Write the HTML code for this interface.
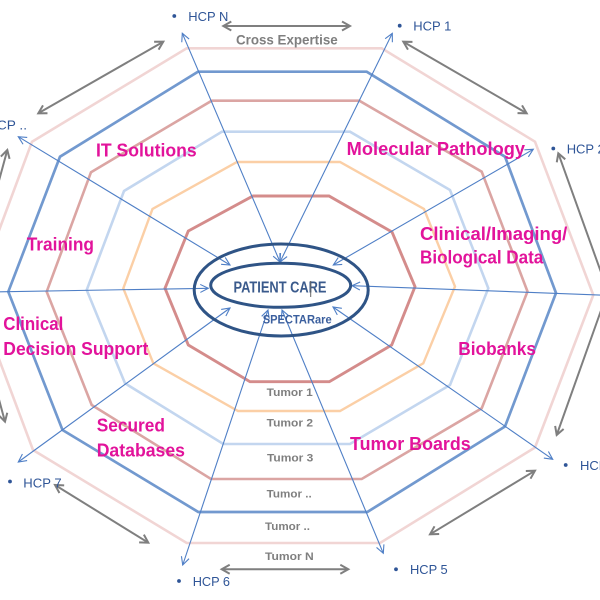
<!DOCTYPE html>
<html><head><meta charset="utf-8"><style>
html,body{margin:0;padding:0;background:#fff;}
svg{display:block;}
text{font-family:"Liberation Sans",sans-serif;}
.pk{fill:#e2139b;font-weight:bold;font-size:18px;}
.hcp{fill:#2f5597;font-size:13px;}
.tm{fill:#7f7f7f;font-weight:bold;font-size:11px;}
</style></head><body>
<svg width="600" height="600" viewBox="0 0 600 600" xmlns="http://www.w3.org/2000/svg">
<defs>
<marker id="ga" markerUnits="userSpaceOnUse" markerWidth="14" markerHeight="14" refX="9" refY="6" orient="auto-start-reverse" style="overflow:visible">
<path d="M1,1.5 L9,6 L1,10.5" fill="none" stroke="#7f7f7f" stroke-width="2"/>
</marker>
<marker id="ba" markerUnits="userSpaceOnUse" markerWidth="12" markerHeight="12" refX="8" refY="4.5" orient="auto-start-reverse" style="overflow:visible">
<path d="M0,0.5 L8,4.5 L0,8.5" fill="none" stroke="#4f7fc6" stroke-width="1.1"/>
</marker>
</defs>
<rect width="600" height="600" fill="#fff"/>

<!-- decagons -->
<g fill="none" stroke-linejoin="miter">
<polygon points="186.7,48.3 381.7,48.3 535,141.7 593.3,295 535,447.5 380,543 186.7,543 33,450 -25,295 32,141.7" stroke="#f1d5d4" stroke-width="2.6"/>
<polygon points="198,71.7 366.7,71.7 505,156.7 556,293 505,426.5 367.3,512 198.3,512 62.5,430 8.3,291.7 60,156.7" stroke="#7299cf" stroke-width="2.7"/>
<polygon points="211.7,100.7 359.3,100.7 481.7,171.7 527.5,291.5 481.7,408.3 361.7,479 211,479 91.7,405 46.7,291.7 91,172.2" stroke="#dba5a3" stroke-width="2.6"/>
<polygon points="222,131.7 350,131.7 450,190 488.3,288.3 450,385 350,444 223.3,444 125,383.3 86.7,290 124,191" stroke="#c3d6ef" stroke-width="2.6"/>
<polygon points="237,162 340,162 424,209 455,286.5 423.3,363.3 340,411 238,411 153.3,363.3 123.3,288.3 152.5,209" stroke="#fbcfa6" stroke-width="2.4"/>
<polygon points="253,196 329,196 392,232 415,286.7 391.7,345 329.3,381.7 250,381.7 188.3,345 165,288.3 188.3,231" stroke="#d48c8b" stroke-width="2.9"/>
</g>

<!-- blue connector lines -->
<g stroke="#4f7fc6" stroke-width="1.1" fill="none" marker-start="url(#ba)" marker-end="url(#ba)">
<line x1="182.3" y1="33.3" x2="280" y2="262"/>
<line x1="392.3" y1="33.3" x2="280" y2="262"/>
<line x1="533.3" y1="149.3" x2="333.3" y2="265"/>
<line x1="18.3" y1="136.7" x2="230" y2="265"/>
<line x1="552.7" y1="459.3" x2="333" y2="307"/>
<line x1="383.3" y1="553.3" x2="282" y2="310"/>
<line x1="182.7" y1="565" x2="268" y2="310"/>
<line x1="18.3" y1="462" x2="230" y2="308"/>
</g>
<line x1="-2" y1="291.8" x2="208.3" y2="288.3" stroke="#4f7fc6" stroke-width="1.1" marker-end="url(#ba)"/>
<line x1="602" y1="295.1" x2="352" y2="285.7" stroke="#4f7fc6" stroke-width="1.1" marker-end="url(#ba)"/>

<!-- gray double arrows -->
<g stroke="#7f7f7f" stroke-width="2" fill="none" marker-start="url(#ga)" marker-end="url(#ga)">
<line x1="223.3" y1="26" x2="350" y2="26"/>
<line x1="403.3" y1="41.7" x2="526.7" y2="113.3"/>
<line x1="558.3" y1="153.3" x2="616" y2="314"/>
<line x1="609" y1="288" x2="556.7" y2="435"/>
<line x1="535" y1="470.7" x2="430" y2="534.3"/>
<line x1="221.7" y1="569.3" x2="348.3" y2="569.3"/>
<line x1="55" y1="485" x2="148.3" y2="542.7"/>
<line x1="-22" y1="322" x2="5" y2="421.7"/>
<line x1="7.3" y1="150" x2="-16" y2="236"/>
<line x1="38.3" y1="113.3" x2="163.3" y2="41.7"/>
</g>

<!-- center ellipses -->
<ellipse cx="281.2" cy="290" rx="87" ry="46" fill="none" stroke="#2f5486" stroke-width="3"/>
<ellipse cx="280.7" cy="285.3" rx="70" ry="22" fill="none" stroke="#2f5486" stroke-width="3"/>
<text x="233.5" y="292.7" textLength="93" lengthAdjust="spacingAndGlyphs" style="font-size:15.5px;font-weight:bold;fill:#3a5a8c">PATIENT CARE</text>
<line x1="310.7" y1="281" x2="310.7" y2="297" stroke="#666" stroke-width="1"/>
<text x="262.7" y="323.3" textLength="69" lengthAdjust="spacingAndGlyphs" style="font-size:11.5px;font-weight:bold;fill:#3b5f9e">SPECTARare</text>

<!-- gray texts -->
<text x="236" y="44.3" textLength="101.7" lengthAdjust="spacingAndGlyphs" style="font-size:13.5px;font-weight:bold;fill:#7f7f7f">Cross Expertise</text>
<text class="tm" x="266.7" y="396" textLength="46" lengthAdjust="spacingAndGlyphs">Tumor 1</text>
<text class="tm" x="266.7" y="426.7" textLength="46.3" lengthAdjust="spacingAndGlyphs">Tumor 2</text>
<text class="tm" x="267" y="461.7" textLength="46.3" lengthAdjust="spacingAndGlyphs">Tumor 3</text>
<text class="tm" x="266.7" y="497.3" textLength="45" lengthAdjust="spacingAndGlyphs">Tumor ..</text>
<text class="tm" x="265" y="530" textLength="45" lengthAdjust="spacingAndGlyphs">Tumor ..</text>
<text class="tm" x="265" y="560" textLength="48.7" lengthAdjust="spacingAndGlyphs">Tumor N</text>

<!-- pink labels -->
<text class="pk" x="96" y="156.7" textLength="100.7" lengthAdjust="spacingAndGlyphs">IT Solutions</text>
<text class="pk" x="346.7" y="155" textLength="178.3" lengthAdjust="spacingAndGlyphs">Molecular Pathology</text>
<text class="pk" x="26.7" y="250.7" textLength="67.3" lengthAdjust="spacingAndGlyphs">Training</text>
<text class="pk" x="420" y="240" textLength="147.3" lengthAdjust="spacingAndGlyphs">Clinical/Imaging/</text>
<text class="pk" x="420" y="263.3" textLength="123.3" lengthAdjust="spacingAndGlyphs">Biological Data</text>
<text class="pk" x="3.3" y="330" textLength="60" lengthAdjust="spacingAndGlyphs">Clinical</text>
<text class="pk" x="3.3" y="355" textLength="145" lengthAdjust="spacingAndGlyphs">Decision Support</text>
<text class="pk" x="458.3" y="355" textLength="77.7" lengthAdjust="spacingAndGlyphs">Biobanks</text>
<text class="pk" x="96.7" y="431.7" textLength="68.3" lengthAdjust="spacingAndGlyphs">Secured</text>
<text class="pk" x="96.7" y="456.7" textLength="88.3" lengthAdjust="spacingAndGlyphs">Databases</text>
<text class="pk" x="350" y="450" textLength="120.7" lengthAdjust="spacingAndGlyphs">Tumor Boards</text>

<!-- HCP labels -->
<g fill="#2f5597">
<circle cx="174.3" cy="16" r="1.9"/>
<circle cx="399.7" cy="25.7" r="1.9"/>
<circle cx="553.3" cy="148.5" r="1.9"/>
<circle cx="565.7" cy="465" r="1.9"/>
<circle cx="396" cy="569.3" r="1.9"/>
<circle cx="179" cy="581" r="1.9"/>
<circle cx="10" cy="481.5" r="1.9"/>
</g>
<text class="hcp" x="188.3" y="21" textLength="40" lengthAdjust="spacingAndGlyphs">HCP N</text>
<text class="hcp" x="413.3" y="30.7" textLength="38" lengthAdjust="spacingAndGlyphs">HCP 1</text>
<text class="hcp" x="566.7" y="153.5" textLength="38" lengthAdjust="spacingAndGlyphs">HCP 2</text>
<text class="hcp" x="580" y="470" textLength="38" lengthAdjust="spacingAndGlyphs">HCP 4</text>
<text class="hcp" x="410" y="574" textLength="37.7" lengthAdjust="spacingAndGlyphs">HCP 5</text>
<text class="hcp" x="192.7" y="586" textLength="37.3" lengthAdjust="spacingAndGlyphs">HCP 6</text>
<text class="hcp" x="23.3" y="487.3" textLength="38.3" lengthAdjust="spacingAndGlyphs">HCP 7</text>
<text class="hcp" x="-13" y="129.3" textLength="40" lengthAdjust="spacingAndGlyphs">HCP ..</text>
</svg>
</body></html>
